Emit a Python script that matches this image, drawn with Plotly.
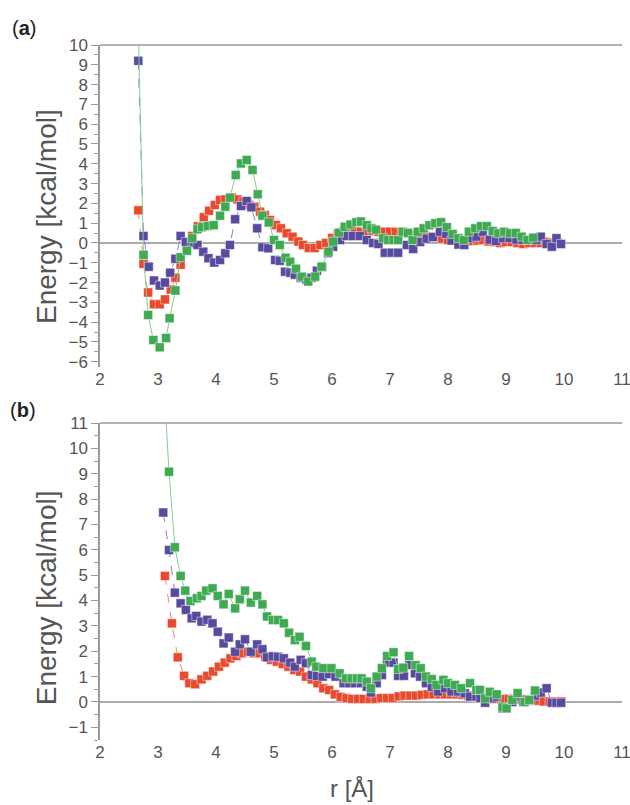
import plotly.graph_objects as go

# ---------------- Panel (a) data ----------------
red_a_r = [2.66, 2.75, 2.83, 2.93, 3.03, 3.12, 3.22, 3.3, 3.39, 3.49, 3.59, 3.69, 3.79, 3.88, 3.98,
           4.07, 4.16, 4.27, 4.37, 4.47, 4.57, 4.66, 4.76, 4.84, 4.93, 5.03, 5.12, 5.22, 5.32, 5.42,
           5.5, 5.6, 5.7, 5.8, 5.9, 6.0, 6.1, 6.2, 6.3, 6.4, 6.5, 6.6, 6.7, 6.8, 6.9, 7.0, 7.1, 7.2,
           7.3, 7.4, 7.5, 7.6, 7.7, 7.8, 7.9, 8.0, 8.1, 8.2, 8.3, 8.4, 8.5, 8.6, 8.7, 8.8, 8.9, 9.0,
           9.1, 9.2, 9.3, 9.4, 9.5, 9.6, 9.7, 9.8, 9.9]
red_a_e = [1.65, -1.05, -2.5, -3.1, -3.1, -2.85, -2.35, -1.75, -1.1, -0.35, 0.35, 0.85, 1.3, 1.63, 1.92,
           2.17, 2.2, 2.3, 2.2, 2.09, 1.92, 1.83, 1.58, 1.41, 1.16, 0.91, 0.74, 0.49, 0.32, 0.07,
           -0.1, -0.25, -0.25, -0.1, 0.0, 0.25, 0.45, 0.6, 0.66, 0.6, 0.57, 0.6, 0.6, 0.57, 0.57, 0.57,
           0.55, 0.5, 0.5, 0.45, 0.4, 0.35, 0.32, 0.3, 0.22, 0.15, 0.12, 0.1, 0.08, 0.1, 0.12, 0.15,
           0.08, 0.05, 0.0, 0.05, 0.05, 0.0, -0.05, 0.0, 0.0, 0.0, 0.05, 0.0, 0.0]

blue_a_r = [2.66, 2.75, 2.84, 2.93, 3.03, 3.12, 3.21, 3.3, 3.39, 3.48, 3.58, 3.68, 3.78, 3.87, 3.97,
            4.07, 4.16, 4.24, 4.33, 4.43, 4.53, 4.61, 4.71, 4.8, 4.9, 5.02, 5.1, 5.19, 5.28, 5.36,
            5.46, 5.56, 5.65, 5.74, 5.83, 5.93, 6.02, 6.14, 6.25, 6.36, 6.48, 6.6, 6.71, 6.8, 6.91,
            7.03, 7.14, 7.29, 7.4, 7.52, 7.63, 7.74, 7.86, 7.97, 8.06, 8.18, 8.28, 8.4, 8.49, 8.6,
            8.72, 8.83, 8.95, 9.06, 9.18, 9.29, 9.4, 9.52, 9.6, 9.7, 9.79, 9.87, 9.95]
blue_a_e = [9.2, 0.35, -1.2, -1.9, -2.15, -2.0, -1.5, -0.8, 0.35, 0.05, 0.0, -0.1, -0.44, -0.77, -0.99,
            -0.86, -0.52, -0.1, 1.2, 1.87, 2.12, 1.8, 0.74, -0.22, -0.27, -0.86, -0.9, -1.45, -1.5, -1.6,
            -1.75, -1.85, -1.75, -1.4, -1.2, -0.5, -0.19, 0.15, 0.35, 0.35, 0.35, 0.15, 0.0, -0.05, -0.49,
            -0.49, -0.49, -0.1, -0.3, 0.05, 0.22, 0.3, 0.57, 0.46, 0.12, -0.08, -0.1, 0.24, 0.32, 0.57,
            0.17, 0.1, 0.24, 0.24, 0.17, 0.15, 0.15, 0.15, 0.32, -0.05, -0.19, 0.24, -0.05]

green_a_r = [2.66, 2.75, 2.83, 2.92, 3.03, 3.14, 3.2, 3.3, 3.39, 3.5, 3.59, 3.68, 3.76, 3.86, 3.96,
             4.07, 4.16, 4.24, 4.34, 4.43, 4.53, 4.63, 4.72, 4.8, 4.91, 5.0, 5.1, 5.2, 5.28, 5.38,
             5.48, 5.59, 5.71, 5.82, 5.94, 6.02, 6.12, 6.22, 6.32, 6.42, 6.5, 6.6, 6.68, 6.76, 6.88,
             6.97, 7.06, 7.14, 7.22, 7.31, 7.39, 7.48, 7.58, 7.68, 7.78, 7.88, 7.98, 8.08, 8.18, 8.27,
             8.36, 8.47, 8.57, 8.67, 8.77, 8.87, 8.97, 9.07, 9.17, 9.27, 9.37, 9.47]
green_a_e = [11, -0.6, -3.64, -4.9, -5.27, -4.8, -3.8, -2.4, -0.72, -0.39, 0.24, 0.69, 0.8, 0.86, 0.9,
             1.38, 1.83, 2.29, 3.43, 4.02, 4.19, 3.69, 2.46, 1.38, 1.04, 0.15, -0.1, -0.75, -0.95, -1.3,
             -1.7, -1.95, -1.7, -1.2, -0.44, 0.07, 0.52, 0.82, 0.93, 1.05, 1.08, 0.9, 0.74, 0.67, 0.24,
             0.15, 0.15, 0.15, 0.57, 0.5, 0.15, 0.57, 0.74, 0.9, 1.0, 1.05, 0.8, 0.45, 0.24, 0.15,
             0.57, 0.74, 0.85, 0.85, 0.6, 0.49, 0.57, 0.49, 0.5, 0.32, 0.15, 0.27]

# ---------------- Panel (b) data ----------------
red_b_r = [3.12, 3.24, 3.34, 3.45, 3.54, 3.64, 3.75, 3.85, 3.95, 4.05, 4.15, 4.25, 4.35, 4.45, 4.55,
           4.65, 4.75, 4.85, 4.95, 5.05, 5.15, 5.25, 5.35, 5.45, 5.55, 5.65, 5.75, 5.85, 5.95, 6.05,
           6.15, 6.25, 6.35, 6.45, 6.55, 6.65, 6.75, 6.85, 6.95, 7.05, 7.15, 7.25, 7.35, 7.45, 7.55,
           7.65, 7.75, 7.85, 7.95, 8.05, 8.15, 8.25, 8.35, 8.45, 8.55, 8.65, 8.75, 8.85, 8.95, 9.05,
           9.15, 9.25, 9.35, 9.45, 9.55, 9.65, 9.75, 9.85, 9.95]
red_b_e = [4.97, 3.1, 1.76, 1.03, 0.74, 0.7, 0.89, 1.03, 1.2, 1.39, 1.55, 1.72, 1.81, 1.92, 1.98,
           1.92, 1.92, 1.79, 1.66, 1.59, 1.5, 1.39, 1.26, 1.2, 1.0, 0.89, 0.74, 0.54, 0.47, 0.3,
           0.2, 0.15, 0.12, 0.12, 0.12, 0.12, 0.12, 0.15, 0.15, 0.15, 0.22, 0.25, 0.25, 0.25, 0.28,
           0.3, 0.3, 0.3, 0.3, 0.3, 0.3, 0.28, 0.25, 0.2, 0.15, 0.12, 0.12, 0.12, 0.12, 0.12,
           0.12, 0.1, 0.1, 0.05, 0.05, 0.02, 0.02, 0.02, 0.02]

blue_b_r = [3.09, 3.19, 3.29, 3.39, 3.48, 3.58, 3.66, 3.75, 3.85, 3.94, 4.03, 4.13, 4.22, 4.33, 4.41,
            4.5, 4.6, 4.71, 4.8, 4.88, 4.98, 5.07, 5.17, 5.28, 5.36, 5.46, 5.55, 5.65, 5.74, 5.84,
            5.95, 6.06, 6.2, 6.3, 6.4, 6.5, 6.6, 6.67, 6.77, 6.86, 6.95, 7.06, 7.14, 7.24, 7.33,
            7.43, 7.52, 7.62, 7.72, 7.83, 7.95, 8.06, 8.17, 8.29, 8.38, 8.49, 8.56, 8.64, 8.76, 8.84,
            8.94, 9.01, 9.11, 9.2, 9.3, 9.42, 9.5, 9.6, 9.7, 9.79, 9.87, 9.95]
blue_b_e = [7.47, 5.99, 4.31, 3.89, 3.63, 3.3, 3.39, 3.17, 3.24, 3.1, 2.77, 2.31, 2.54, 1.98, 2.27,
            2.47, 1.98, 2.27, 2.08, 1.76, 1.8, 1.78, 1.72, 1.55, 1.39, 1.66, 1.53, 1.06, 1.02, 1.0,
            1.1, 1.0, 0.74, 0.74, 0.74, 0.74, 0.6, 0.37, 0.74, 1.06, 1.55, 1.55, 1.03, 1.03, 1.46,
            1.13, 1.0, 0.74, 0.6, 0.41, 0.54, 0.41, 0.41, 0.34, 0.21, 0.21, 0.15, -0.03, 0.14, 0.21,
            -0.25, -0.25, 0.0, 0.21, 0.0, 0.08, 0.25, 0.37, 0.54, -0.03, -0.03, -0.03]

green_b_r = [3.09, 3.19, 3.29, 3.39, 3.47, 3.56, 3.67, 3.75, 3.83, 3.94, 4.03, 4.13, 4.22, 4.33, 4.41,
             4.5, 4.6, 4.71, 4.8, 4.88, 4.98, 5.07, 5.17, 5.26, 5.36, 5.44, 5.55, 5.65, 5.73, 5.85,
             5.99, 6.13, 6.24, 6.34, 6.43, 6.51, 6.6, 6.67, 6.77, 6.86, 6.95, 7.06, 7.14, 7.23, 7.33,
             7.44, 7.53, 7.62, 7.72, 7.8, 7.92, 8.0, 8.12, 8.23, 8.38, 8.49, 8.55, 8.64, 8.72, 8.84,
             8.94, 9.01, 9.11, 9.2, 9.32, 9.4, 9.5]
green_b_e = [13, 9.08, 6.1, 4.97, 4.39, 3.98, 4.09, 4.18, 4.39, 4.48, 4.18, 3.85, 4.26, 3.69, 4.05,
             4.39, 3.92, 4.18, 3.85, 3.37, 3.23, 3.23, 3.1, 2.73, 2.44, 2.57, 2.21, 1.59, 1.39, 1.33,
             1.33, 1.13, 0.93, 0.93, 0.93, 0.93, 0.8, 0.54, 1.0, 1.33, 1.81, 1.96, 1.3, 1.35, 1.81,
             1.45, 1.33, 1.0, 0.9, 0.67, 0.87, 0.74, 0.67, 0.54, 0.74, 0.47, 0.47, 0.14, 0.4, 0.3,
             -0.21, -0.25, 0.08, 0.35, 0.0, 0.08, 0.45]

x_ticks = [2, 3, 4, 5, 6, 7, 8, 9, 10, 11]

RED, RED_L = '#E84A2D', '#F08A74'
BLUE, BLUE_L = '#584A9E', '#8C82C4'
GREEN, GREEN_L = '#3FAA52', '#86CC92'

fig = go.Figure()


def add(x, y, col, lcol, dash, xa, ya):
    fig.add_trace(go.Scatter(
        x=x, y=y, mode='lines+markers', xaxis=xa, yaxis=ya, showlegend=False,
        line=dict(color=lcol, width=1, dash=dash),
        marker=dict(symbol='square', size=9, color=col,
                    line=dict(color='rgba(255,255,255,0.45)', width=1)),
        cliponaxis=True))


add(red_a_r, red_a_e, RED, RED_L, 'dash', 'x', 'y')
add(blue_a_r, blue_a_e, BLUE, BLUE_L, 'dash', 'x', 'y')
add(green_a_r, green_a_e, GREEN, GREEN_L, 'solid', 'x', 'y')
add(red_b_r, red_b_e, RED, RED_L, 'dash', 'x2', 'y2')
add(blue_b_r, blue_b_e, BLUE, BLUE_L, 'dash', 'x2', 'y2')
add(green_b_r, green_b_e, GREEN, GREEN_L, 'solid', 'x2', 'y2')

FONT = 'Liberation Sans, Arial, sans-serif'
AX = '#9a9a9a'
TXT = '#555555'

xcommon = dict(range=[2, 11], tickvals=x_ticks, showline=False, showgrid=False, zeroline=False,
               ticks='', automargin=False, ticklabeloverflow='allow',
               tickfont=dict(family=FONT, size=17, color=TXT))
ycommon = dict(dtick=1, showline=True, linecolor=AX, linewidth=1.5, showgrid=False,
               zeroline=True, zerolinecolor='#aaaaaa', zerolinewidth=2, automargin=False,
               ticks='outside', ticklen=7, tickcolor=AX, tickwidth=1,
               minor=dict(ticks='outside', dtick=0.5, ticklen=4, tickcolor=AX),
               tickfont=dict(family=FONT, size=17, color=TXT))

fig.update_layout(
    width=630, height=805,
    margin=dict(l=100, r=8, t=45, b=65),
    plot_bgcolor='white', paper_bgcolor='white',
    xaxis=dict(domain=[0, 1], anchor='y', **xcommon),
    yaxis=dict(domain=[0.5371, 1], anchor='x', range=[-6.25, 10], **ycommon),
    xaxis2=dict(domain=[0, 1], anchor='y2', **xcommon),
    yaxis2=dict(domain=[0, 0.4561], anchor='x2', range=[-1.5, 11], **ycommon),
    shapes=[
        dict(type='line', xref='x domain', yref='y domain', x0=0, x1=1, y0=1, y1=1,
             line=dict(color=AX, width=1.5)),
        dict(type='line', xref='x2 domain', yref='y2 domain', x0=0, x1=1, y0=1, y1=1,
             line=dict(color=AX, width=1.5)),
    ],
    annotations=[
        dict(text='(<b>a</b>)', xref='paper', yref='paper', x=-0.172, y=1.0245,
             xanchor='left', yanchor='middle', showarrow=False,
             font=dict(family=FONT, size=20, color='#222222')),
        dict(text='(<b>b</b>)', xref='paper', yref='paper', x=-0.176, y=0.4748,
             xanchor='left', yanchor='middle', showarrow=False,
             font=dict(family=FONT, size=20, color='#222222')),
        dict(text='Energy [kcal/mol]', xref='paper', yref='paper', x=-0.1034, y=0.7525,
             xanchor='center', yanchor='middle', textangle=-90, showarrow=False,
             font=dict(family=FONT, size=28, color=TXT)),
        dict(text='Energy [kcal/mol]', xref='paper', yref='paper', x=-0.1034, y=0.204,
             xanchor='center', yanchor='middle', textangle=-90, showarrow=False,
             font=dict(family=FONT, size=28, color=TXT)),
        dict(text='r [Å]', xref='paper', yref='paper', x=0.4828, y=-0.0705,
             xanchor='center', yanchor='middle', showarrow=False,
             font=dict(family=FONT, size=24, color=TXT)),
    ],
)

fig.write_html('out.html', config={'displayModeBar': False},
               post_script="document.body.style.margin='0';document.body.style.padding='0';")
